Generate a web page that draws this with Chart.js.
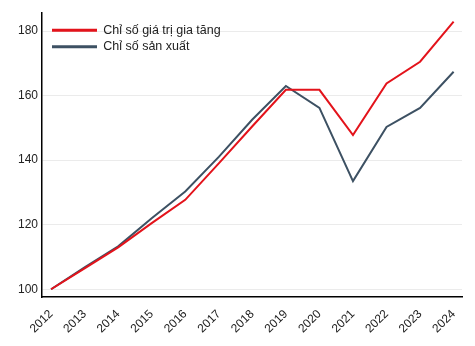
<!DOCTYPE html>
<html>
<head>
<meta charset="utf-8">
<script src="https://cdn.jsdelivr.net/npm/chart.js@4.4.1/dist/chart.umd.min.js"></script>
<style>
  html, body { margin: 0; padding: 0; background: #fff; }
  #wrap { width: 475px; height: 346px; }
</style>
</head>
<body>
<div id="wrap"><canvas id="chart" width="475" height="346"></canvas></div>
<script>
let years = [2012, 2013, 2014, 2015, 2016, 2017, 2018, 2019, 2020, 2021, 2022, 2023, 2024];

let valueAdded = [100, 106.5, 113, 120.5, 127.7, 139, 150.5, 161.8, 161.8, 147.8, 163.8, 170.5, 182.9];

let production = [100, 106.8, 113.3, 122, 130.3, 141, 152.6, 163, 156.2, 133.5, 150.3, 156.2, 167.4];

let yTicks = [100, 120, 140, 160, 180];

let seriesNames = ['Chỉ số giá trị gia tăng', 'Chỉ số sản xuất'];
let seriesColors = ['#e3131b', '#3d5163'];

const toPoints = (arr) => arr.map((v, i) => ({ x: years[i], y: v }));

const data = {
    datasets: [{
        label: seriesNames[0],
        data: toPoints(valueAdded),
        borderColor: seriesColors[0],
        backgroundColor: seriesColors[0],
        borderWidth: 2,
        pointRadius: 0,
        tension: 0
    }, {
        label: seriesNames[1],
        data: toPoints(production),
        borderColor: seriesColors[1],
        backgroundColor: seriesColors[1],
        borderWidth: 2,
        pointRadius: 0,
        tension: 0
    }]
};

const font = { family: '"Liberation Sans", Arial, sans-serif', size: 12 };

// nudge the in-plot legend away from the top-left corner
const legendOffset = {
    id: 'legendOffset',
    afterLayout(chart) {
        if (chart.legend) {
            chart.legend.left += 6;
            chart.legend.top += 20;
        }
    }
};

const config = {
    type: 'line',
    data: data,
    plugins: [legendOffset],
    options: {
        responsive: false,
        animation: false,
        layout: { padding: { top: 13, right: 13, left: 0, bottom: 0 } },
        plugins: {
            tooltip: { enabled: false },
            legend: {
                position: 'chartArea',
                align: 'start',
                labels: {
                    font: { family: font.family, size: 12.5 },
                    color: '#222',
                    boxWidth: 45,
                    boxHeight: 3,
                    padding: 4,
                    generateLabels: (chart) => chart.data.datasets.map((ds, i) => ({
                        text: ds.label,
                        fillStyle: ds.borderColor,
                        strokeStyle: ds.borderColor,
                        lineWidth: 0,
                        datasetIndex: i,
                        fontColor: '#222'
                    }))
                }
            }
        },
        scales: {
            x: {
                type: 'linear',
                min: 2011.73,
                max: 2024.25,
                afterBuildTicks: (scale) => { scale.ticks = years.map(v => ({ value: v })); },
                afterFit: (scale) => { scale.height = 49; },
                grid: { display: false },
                border: { color: '#000', width: 1.5 },
                ticks: {
                    font: font,
                    color: '#222',
                    minRotation: 45,
                    maxRotation: 45,
                    autoSkip: false,
                    padding: 2,
                    callback: (v) => String(v)
                }
            },
            y: {
                min: 97.6,
                max: 185.6,
                afterBuildTicks: (scale) => { scale.ticks = yTicks.map(v => ({ value: v })); },
                afterFit: (scale) => { scale.width = 42; },
                grid: { color: '#ebebeb', drawTicks: false },
                border: { color: '#000', width: 1.5 },
                ticks: {
                    font: font,
                    color: '#222',
                    padding: 4
                }
            }
        }
    }
};

const chart = new Chart(document.getElementById('chart'), config);
</script>
</body>
</html>
